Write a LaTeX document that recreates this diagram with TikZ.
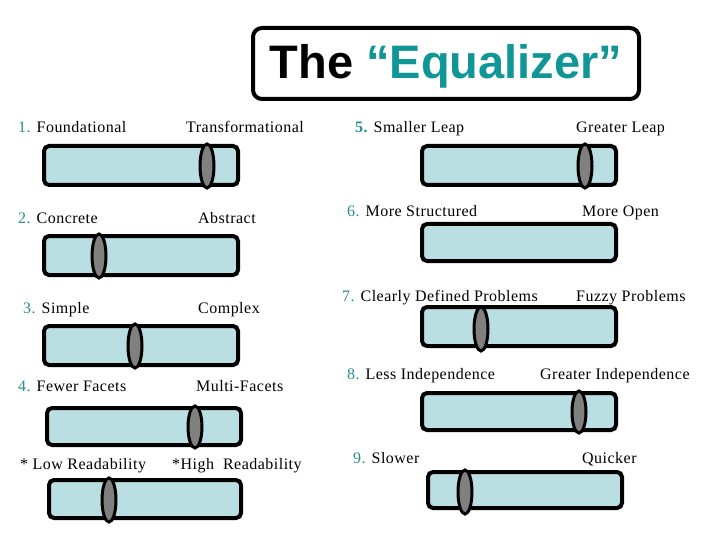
\documentclass[tikz,border=0pt]{standalone}
\usepackage{fontspec}
\setmainfont{Liberation Serif}[LetterSpace=3]
\newfontfamily\titlefont{Liberation Sans}
\usetikzlibrary{shapes.geometric}
\definecolor{barblue}{RGB}{185,223,226}
\definecolor{eqteal}{RGB}{16,150,150}
\definecolor{numteal}{RGB}{40,140,140}
\begin{document}
\begin{tikzpicture}[x=1pt,y=-1pt]
 \tikzstyle{bar}=[draw,line width=4pt,rounded corners=5pt,fill=barblue,minimum width=194pt,minimum height=39pt,inner sep=0pt]
 \tikzstyle{knob}=[ellipse,draw,line width=3pt,fill=gray,minimum width=14pt,minimum height=44pt,inner sep=0pt]
 \tikzstyle{lab}=[anchor=base west,inner sep=0pt,font=\fontsize{16}{18}\selectfont]
 \useasboundingbox (0,0) rectangle (720,540);
 \node[draw,line width=4pt,rounded corners=9pt,minimum width=386pt,minimum height=71pt,inner sep=0pt,
   text height=40pt,text depth=10pt,
   font=\titlefont\bfseries\fontsize{47}{50}\selectfont] (T) at (446,63.5) {The \textcolor{eqteal}{“Equalizer”}};
 % left column
 \node[bar] (B1) at (141,165.5) {};
 \node[knob] (K1) at (207,166) {};
 \node[bar] (B2) at (141,255.5) {};
 \node[knob] (K2) at (99,256) {};
 \node[bar] (B3) at (141,345.5) {};
 \node[knob] (K3) at (135,346) {};
 \node[bar,minimum height=37pt] (B4) at (144,426.5) {};
 \node[knob,minimum height=42pt] (K4) at (195,427) {};
 \node[bar,minimum width=192pt,minimum height=38pt] (B5) at (145,499) {};
 \node[knob] (K5) at (109,500) {};
 % right column
 \node[bar] (R5) at (519,165.5) {};
 \node[knob] (Q5) at (585,166) {};
 \node[bar,minimum height=37pt] (R6) at (519,242.5) {};
 \node[bar] (R7) at (519,326.5) {};
 \node[knob] (Q7) at (481,329) {};
 \node[bar,minimum height=37pt] (R8) at (519,411.5) {};
 \node[knob,minimum height=42pt] (Q8) at (579,412) {};
 \node[bar,minimum height=36pt] (R9) at (525,490) {};
 \node[knob] (Q9) at (465,492) {};
 % labels
 \node[lab] (L1) at (18,133) {\textcolor{numteal}{1.} Foundational};
 \node[lab] (L1r) at (186,133) {Transformational};
 \node[lab] (L2) at (18,223) {\textcolor{numteal}{2.} Concrete};
 \node[lab] (L2r) at (198,223) {Abstract};
 \node[lab] (L3) at (23,313) {\textcolor{numteal}{3.} Simple};
 \node[lab] (L3r) at (198,313) {Complex};
 \node[lab] (L4) at (18,391) {\textcolor{numteal}{4.} Fewer Facets};
 \node[lab] (L4r) at (196,391) {Multi-Facets};
 \node[lab] (L5) at (20,469) {* Low Readability};
 \node[lab] (L5r) at (172,469) {*High\ \ Readability};
 \node[lab] (M5) at (355,133) {\textcolor{numteal}{\bfseries 5.} Smaller Leap};
 \node[lab] (M5r) at (576,133) {Greater Leap};
 \node[lab] (M6) at (347,217) {\textcolor{numteal}{6.} More Structured};
 \node[lab] (M6r) at (582,217) {More Open};
 \node[lab] (M7) at (342,301) {\textcolor{numteal}{7.} Clearly Defined Problems};
 \node[lab] (M7r) at (576,301) {Fuzzy Problems};
 \node[lab] (M8) at (347,379) {\textcolor{numteal}{8.} Less Independence};
 \node[lab] (M8r) at (540,379) {Greater Independence};
 \node[lab] (M9) at (353,463) {\textcolor{numteal}{9.} Slower};
 \node[lab] (M9r) at (582,463) {Quicker};
\end{tikzpicture}
\end{document}
